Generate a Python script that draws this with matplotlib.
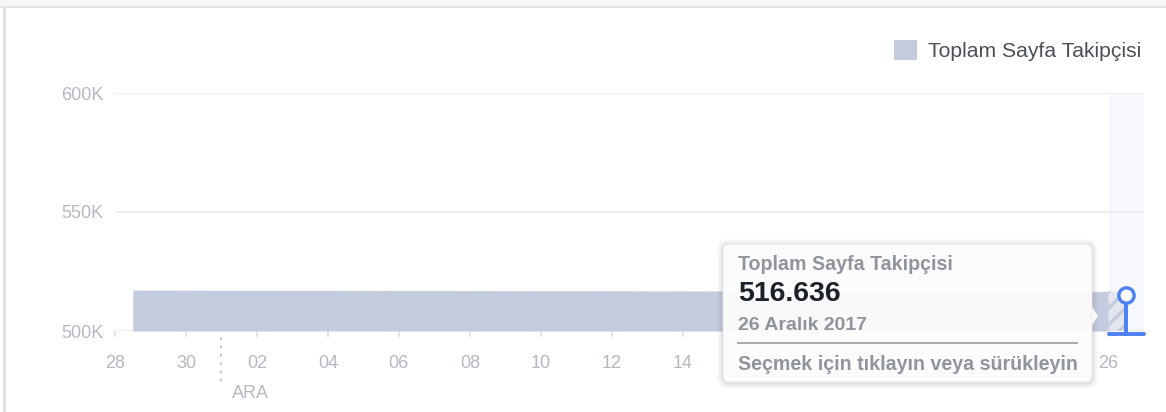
import numpy as np
import matplotlib
matplotlib.use("Agg")
import matplotlib.pyplot as plt
from matplotlib.patches import Patch, FancyBboxPatch, Rectangle, Polygon
from matplotlib.transforms import IdentityTransform, blended_transform_factory
from matplotlib.lines import Line2D

plt.rcParams['font.family'] = ['Liberation Sans', 'DejaVu Sans']
plt.rcParams['hatch.linewidth'] = 2.5

# daily total page followers, 28 Nov .. 26 Dec 2017
day_labels = ['28', '29', '30', '01', '02', '03', '04', '05', '06', '07', '08', '09',
              '10', '11', '12', '13', '14', '15', '16', '17', '18', '19', '20', '21',
              '22', '23', '24', '25', '26']
followers = [517180, 517150, 517130, 517120, 517090, 517060, 517040, 517010, 516990,
             516970, 516950, 516930, 516910, 516900, 516880, 516860, 516850, 516830,
             516810, 516790, 516770, 516760, 516740, 516720, 516700, 516690, 516670,
             516650, 516636]
y_ticks = [500000, 550000, 600000]
y_tick_labels = ['500K', '550K', '600K']
series_name = 'Toplam Sayfa Takipçisi'
month_label = 'ARA'
tip_value = '516.636'
tip_date = '26 Aralık 2017'
tip_hint = 'Seçmek için tıklayın veya sürükleyin'

AREA = '#c5cbde'
GRID = '#e9ebee'
TICKC = '#b4b8c0'
BLUE = '#4b7ff2'

W, H = 1166, 412
fig = plt.figure(figsize=(W / 100, H / 100), dpi=100)
fig.patch.set_facecolor('white')

ax = fig.add_axes([115 / W, 81 / H, 1029 / W, 238 / H])
n = len(followers)
x_days = np.arange(n)
x_pts = x_days + 0.5
vals = np.array(followers)

ax.set_xlim(0, n)
ax.set_ylim(y_ticks[0], y_ticks[-1])
for s in ax.spines.values():
    s.set_visible(False)

# selected day band
ax.axvspan(x_days[-1], x_days[-1] + 1, color='#f6f8fd', zorder=0, lw=0)

for yt in y_ticks:
    ax.axhline(yt, color=GRID, lw=1.2, zorder=1)

# area: complete days solid, current partial day hatched
split = x_days[-1]
split_val = np.interp(split, x_pts, vals)
m = x_pts < split
xs = np.append(x_pts[m], split)
ys = np.append(vals[m], split_val)
ax.fill_between(xs, y_ticks[0], ys, color=AREA, lw=0, zorder=2)
ax.fill_between([split, x_pts[-1]], y_ticks[0], [split_val, vals[-1]],
                facecolor='#e3e6ef', edgecolor=AREA, hatch='//', lw=0, zorder=2)

ax.set_yticks(y_ticks)
ax.set_yticklabels(y_tick_labels)
ax.tick_params(axis='y', length=0, pad=8, labelsize=13, labelcolor=TICKC)
ax.set_xticks(x_days[::2])
ax.set_xticklabels(day_labels[::2])
ax.tick_params(axis='x', length=4.5, width=1.2, color='#dddfe2', direction='out',
               pad=12.5, labelsize=13, labelcolor=TICKC)

# month separator
trans = blended_transform_factory(ax.transData, ax.transAxes)
month_start = day_labels.index('01')
ax.plot([month_start, month_start], [-0.025, -0.22], transform=trans, color='#c8ccd2',
        lw=1.5, ls=(0, (1.5, 2.5)), clip_on=False)
ax.text(month_start + 0.3, -0.262, month_label, transform=trans, ha='left', va='center',
        fontsize=13, color=TICKC)

# selection pin on the last point
ax.plot([x_pts[-1], x_pts[-1]], [-0.012, (vals[-1] - y_ticks[0]) / (y_ticks[-1] - y_ticks[0]) - 0.04],
        transform=trans, color=BLUE, lw=2.8, clip_on=False, zorder=5)
ax.plot([x_days[-1], x_days[-1] + 1], [-0.012, -0.012], transform=trans, color=BLUE,
        lw=2.8, clip_on=False, solid_capstyle='round', zorder=5)
ax.plot([x_pts[-1]], [vals[-1] - 1500], marker='o', ms=11, mfc='white', mec=BLUE, mew=2.4,
        clip_on=False, zorder=6)

# legend
fig.legend(handles=[Patch(facecolor=AREA, edgecolor='none', label=series_name)],
           loc='upper right', bbox_to_anchor=(1141 / W, (H - 40) / H), frameon=False,
           fontsize=15.2, labelcolor='#4b4f56', handlelength=1.1, handleheight=1.1,
           handletextpad=0.5, borderpad=0, borderaxespad=0)

# page frame
ident = IdentityTransform()
fig.add_artist(Rectangle((0, H - 7), W, 7, transform=ident, color='#f5f6f7', lw=0, zorder=0))
fig.add_artist(Line2D([0, W], [H - 7, H - 7], transform=ident, color='#dddfe2', lw=1.2))
fig.add_artist(Line2D([3.5, 3.5], [0, H - 7], transform=ident, color='#dddfe2', lw=2))

# tooltip
bx0, by0, bx1, by1 = 723, H - 382, 1092, H - 244
for k, a in [(6, 0.025), (4, 0.035), (2, 0.05)]:
    fig.add_artist(FancyBboxPatch((bx0 - k, by0 - k - 1), bx1 - bx0 + 2 * k, by1 - by0 + 2 * k,
                                  boxstyle='round,pad=0,rounding_size=%d' % (6 + k),
                                  transform=ident, facecolor='black', alpha=a, lw=0, zorder=9))
fig.add_artist(FancyBboxPatch((bx0, by0), bx1 - bx0, by1 - by0,
                              boxstyle='round,pad=0,rounding_size=6', transform=ident,
                              facecolor='white', alpha=0.93, edgecolor='#e4e6ea', lw=0.8,
                              zorder=10))
ay = H - 316
fig.add_artist(Polygon([(bx1, ay + 9), (bx1 + 6, ay), (bx1, ay - 9)], closed=True,
                       transform=ident, facecolor='white', alpha=0.93, lw=0, zorder=10))
tx = 738 / W
fig.text(tx, (H - 265) / H, series_name, fontsize=14.1, color='#90949c',
         fontweight='bold', va='center', ha='left', zorder=11)
fig.text(tx, (H - 294) / H, tip_value, fontsize=20.5, color='#1d2129',
         fontweight='bold', va='center', ha='left', zorder=11)
fig.text(tx, (H - 325) / H, tip_date, fontsize=14, color='#90949c',
         fontweight='bold', va='center', ha='left', zorder=11)
fig.add_artist(Line2D([738, 1077], [H - 343, H - 343], transform=ident, color='#a0a4ac',
                      lw=1.3, zorder=11))
fig.text(tx, (H - 364) / H, tip_hint, fontsize=14.1, color='#90949c',
         fontweight='bold', va='center', ha='left', zorder=11)

# day labels hidden behind the tooltip
for lbl, pos in zip(ax.get_xticklabels(), ax.get_xticks()):
    px = ax.transData.transform((pos, 0))[0]
    if bx0 - 10 < px < bx1 + 8:
        lbl.set_visible(False)

fig.savefig('out.png', dpi=100)
